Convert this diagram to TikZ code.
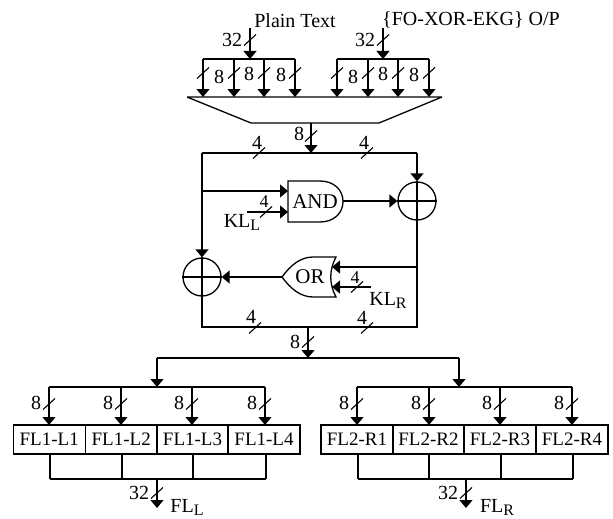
\documentclass[tikz,border=0pt]{standalone}
\usepackage{fontspec}
\setmainfont{Liberation Serif}
\usetikzlibrary{arrows.meta}
\newcommand{\lowtxt}[1]{\raisebox{-0.15em}{\fontsize{16}{16}\selectfont #1}}
\newcommand{\busmark}[2]{\draw[busslash] (#1-6,#2+5.5) -- (#1+6,#2-5.5);}
\tikzset{
  wire/.style={line width=1.3pt,line join=miter},
  arr/.style={wire,-{Triangle[width=13pt,length=8pt]}},
  busslash/.style={line width=1.1pt},
  lab/.style={inner sep=0pt,font=\fontsize{20}{21}\selectfont},
  biglab/.style={inner sep=0pt,font=\fontsize{21}{22}\selectfont},
  smalllab/.style={inner sep=0pt,font=\fontsize{18}{19}\selectfont},
  flbox/.style={draw,line width=1.3pt,minimum width=72pt,minimum height=29pt,inner sep=0pt,font=\fontsize{19}{20}\selectfont},
  xorc/.style={draw,circle,line width=1.3pt,minimum size=38pt,inner sep=0pt}
}
\begin{document}
\begin{tikzpicture}[x=1pt,y=-1pt]
\useasboundingbox (0,0) rectangle (613,519);
\fill[white] (0,0) rectangle (613,519);
% titles
\node[lab] (pt) at (295,21) {Plain Text};
\node[lab] (fo) at (471,20) {\{FO-XOR-EKG\} O/P};
% top inputs
\coordinate (a0) at (250,28); \coordinate (b0) at (383,28);
\coordinate (a) at (250,59); \coordinate (b) at (383,59);
\draw[arr] (a0) -- (a);
\draw[arr] (b0) -- (b);
\foreach \n/\x in {a1/203,a2/234,a3/264,a4/295,b1/337,b2/368,b3/398,b4/429}{
  \coordinate (\n) at (\x,59);
  \coordinate (\n e) at (\x,97);
  \draw[arr] (\n) -- (\n e);
  \busmark{\x}{73}
}
\draw[wire] (a1) -- (a4);
\draw[wire] (b1) -- (b4);
\busmark{250}{40}\busmark{383}{40}
\node[lab] (l32a) at (232,40) {32};
\node[lab] (l32b) at (365,40) {32};
\node[lab] (l8a) at (219,77) {8};
\node[lab] (l8b) at (249,74) {8};
\node[lab] (l8c) at (281,75) {8};
\node[lab] (l8d) at (353,77) {8};
\node[lab] (l8e) at (383,74) {8};
\node[lab] (l8f) at (414,75) {8};
% trapezoid
\draw[wire] (187,97) -- (442,97) (187,97) -- (251,123) -- (379,123) -- (442,97);
% middle
\coordinate (m0) at (311,123); \coordinate (m1) at (311,153);
\draw[arr] (m0) -- (m1);
\busmark{311}{136}
\node[lab] (l8m) at (299,134) {8};
% XORs
\node[xorc] (x1) at (417,201) {};
\node[xorc] (x2) at (202,277) {};
\draw[wire] (x1.north) -- (x1.south) (x1.west) -- (x1.east);
\draw[wire] (x2.north) -- (x2.south) (x2.west) -- (x2.east);
% main loop
\coordinate (tl) at (202,153); \coordinate (tr) at (417,153);
\coordinate (bl) at (202,327); \coordinate (br) at (417,327);
\draw[wire] (tl) -- (tr);
\draw[arr] (tl) -- (x2.north);
\draw[arr] (tr) -- (x1.north);
\draw[wire] (x1.south) -- (br) -- (bl) -- (x2.south);
\busmark{259}{153}\busmark{367}{153}
\node[lab] (l4a) at (257,143) {4};
\node[lab] (l4b) at (364,143) {4};
\busmark{255}{328}\busmark{367}{328}
\node[lab] (l4c) at (251,317) {4};
\node[lab] (l4d) at (362,318) {4};
% AND gate
\draw[wire] (288,181) -- (320,181) .. controls (334,181) and (343,190) .. (343,201.5) .. controls (343,213) and (334,222) .. (320,222) -- (288,222) -- cycle;
\node[biglab] (andl) at (315,202) {AND};
\coordinate (ai1) at (288,191); \coordinate (ai2) at (288,212);
\coordinate (aj1) at (202,191); \coordinate (kll) at (247,212); \coordinate (ao) at (343,201);
\draw[arr] (aj1) -- (ai1);
\draw[arr] (kll) -- (ai2);
\draw[arr] (ao) -- (x1.west);
\busmark{266}{212}
\node[smalllab] (l4e) at (264,202) {4};
\node[lab] (kllab) at (242,222) {KL\lowtxt{L}};
% OR gate
\draw[wire] (336,257) -- (313,257) .. controls (300,257) and (290,266) .. (282,277) .. controls (290,288) and (300,297) .. (313,297) -- (336,297) .. controls (329,284) and (329,270) .. (336,257) -- cycle;
\node[biglab] (orl) at (310,277) {OR};
\coordinate (oi1) at (332,267); \coordinate (oi2) at (332,287);
\coordinate (oj1) at (417,267); \coordinate (klr) at (371,287); \coordinate (oo) at (282,277);
\draw[arr] (oj1) -- (oi1);
\draw[arr] (klr) -- (oi2);
\draw[arr] (oo) -- (x2.east);
\busmark{357}{287}
\node[smalllab] (l4f) at (355,278) {4};
\node[lab] (krlab) at (388,300.5) {KL\lowtxt{R}};
% split
\coordinate (s0) at (308,327); \coordinate (s1) at (308,358);
\draw[arr] (s0) -- (s1);
\busmark{308}{342}
\node[lab] (l8s) at (295,342) {8};
\coordinate (sl) at (157,358); \coordinate (sr) at (459,358);
\coordinate (sl1) at (157,387); \coordinate (sr1) at (459,387);
\draw[wire] (sl) -- (sr);
\draw[arr] (sl) -- (sl1);
\draw[arr] (sr) -- (sr1);
% input banks
\foreach \n/\x in {p1/49,p2/121,p3/192,p4/265,q1/357,q2/429,q3/500,q4/572}{
  \coordinate (\n) at (\x,387);
  \coordinate (\n e) at (\x,425);
  \draw[arr] (\n) -- (\n e);
  \busmark{\x}{404}
  \node[lab] (\n lab) at (\x-13,403) {8};
}
\draw[wire] (p1) -- (p4);
\draw[wire] (q1) -- (q4);
% boxes
\foreach \n/\x/\t in {f1/49.2/FL1-L1,f2/121.2/FL1-L2,f3/192.5/FL1-L3,f4/264/FL1-L4,g1/357/FL2-R1,g2/428.5/FL2-R2,g3/500/FL2-R3,g4/572/FL2-R4}{
  \node[flbox] (\n) at (\x,439.5) {\t};
}
% output collectors
\foreach \n/\x in {c1/50,c2/122,c3/193,c4/266,d1/358,d2/429,d3/501,d4/573}{
  \coordinate (\n t) at (\x,454);
  \coordinate (\n) at (\x,479);
  \draw[wire] (\n t) -- (\n);
}
\draw[wire] (c1) -- (c4);
\draw[wire] (d1) -- (d4);
\coordinate (u) at (157,479); \coordinate (v) at (466,479);
\coordinate (ue) at (157,508); \coordinate (ve) at (466,508);
\draw[arr] (u) -- (ue);
\draw[arr] (v) -- (ve);
\busmark{157}{493}\busmark{466}{493}
\node[lab] (l32c) at (139,493) {32};
\node[lab] (l32d) at (448,493) {32};
\node[lab] (fll) at (187,507.5) {FL\lowtxt{L}};
\node[lab] (flr) at (497,507.5) {FL\lowtxt{R}};
\end{tikzpicture}
\end{document}
